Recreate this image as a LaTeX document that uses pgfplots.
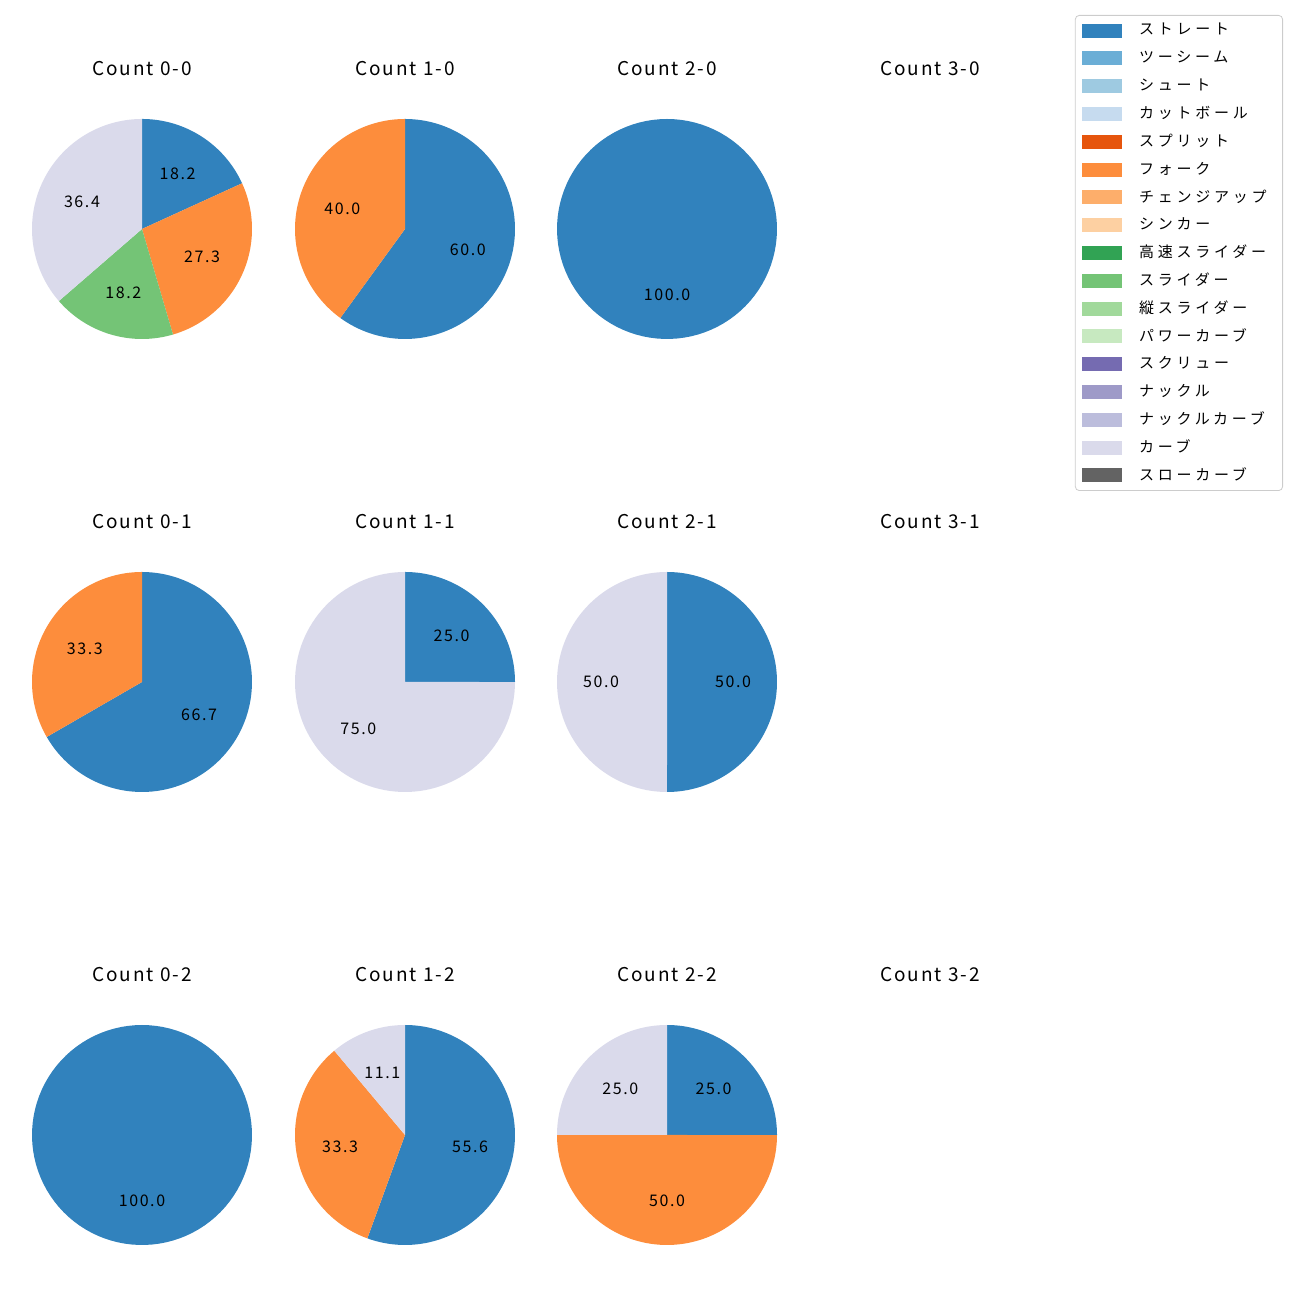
\documentclass[border=0pt]{standalone}
\usepackage{pgfplots}
\pgfplotsset{compat=1.18}
\usepackage{fontspec}
\setmainfont{Noto Sans CJK JP}[LetterSpace=10]
\newfontfamily\legfont{Noto Sans CJK JP}[LetterSpace=25]
\definecolor{c1}{HTML}{3182BD}
\definecolor{c2}{HTML}{6BAED6}
\definecolor{c3}{HTML}{9ECAE1}
\definecolor{c4}{HTML}{C6DBEF}
\definecolor{c5}{HTML}{E6550D}
\definecolor{c6}{HTML}{FD8D3C}
\definecolor{c7}{HTML}{FDAE6B}
\definecolor{c8}{HTML}{FDD0A2}
\definecolor{c9}{HTML}{31A354}
\definecolor{c10}{HTML}{74C476}
\definecolor{c11}{HTML}{A1D99B}
\definecolor{c12}{HTML}{C7E9C0}
\definecolor{c13}{HTML}{756BB1}
\definecolor{c14}{HTML}{9E9AC8}
\definecolor{c15}{HTML}{BCBDDC}
\definecolor{c16}{HTML}{DADAEB}
\definecolor{c17}{HTML}{636363}
\newcommand{\titfont}{\fontsize{9.5}{11}\selectfont}
\newcommand{\labfont}{\fontsize{8}{9}\selectfont}
\pgfplotsset{pie/.style={hide axis, scale only axis, width=110pt, height=110pt,
  xmin=-1, xmax=1, ymin=-1, ymax=1, anchor=center, clip=false}}
% slice from cumulative percent #1 to #2, colour #3
\newcommand{\pieslice}[3]{\addplot[fill=#3, draw=none, domain={90-3.6*(#2)}:{90-3.6*(#1)}, samples=100, variable=\t] ({cos(\t)},{sin(\t)}) -- (axis cs:0,0) -- cycle;}
\newcommand{\plabel}[3]{\node[font=\labfont] at (axis cs:{0.6*cos(90-1.8*(#1+#2))},{0.6*sin(90-1.8*(#1+#2))}) {#3};}
\newcommand{\ptitle}[1]{\node[font=\titfont] at (axis cs:0,1.4545) {#1};}
\begin{document}
\begin{tikzpicture}
\path[use as bounding box] (0,0) rectangle (650pt,650pt);
% row 1
\begin{axis}[pie, at={(71pt,535.5pt)}]
\pieslice{0}{18.1818}{c1}
\pieslice{18.1818}{45.4545}{c6}
\pieslice{45.4545}{63.6364}{c10}
\pieslice{63.6364}{100}{c16}
\plabel{0}{18.1818}{18.2}
\plabel{18.1818}{45.4545}{27.3}
\plabel{45.4545}{63.6364}{18.2}
\plabel{63.6364}{100}{36.4}
\ptitle{Count 0-0}
\end{axis}
\begin{axis}[pie, at={(202.5pt,535.5pt)}]
\pieslice{0}{60}{c1}
\pieslice{60}{100}{c6}
\plabel{0}{60}{60.0}
\plabel{60}{100}{40.0}
\ptitle{Count 1-0}
\end{axis}
\begin{axis}[pie, at={(333.5pt,535.5pt)}]
\pieslice{0}{100}{c1}
\plabel{0}{100}{100.0}
\ptitle{Count 2-0}
\end{axis}
\begin{axis}[pie, at={(465pt,535.5pt)}]
\ptitle{Count 3-0}
\end{axis}
% row 2
\begin{axis}[pie, at={(71pt,309pt)}]
\pieslice{0}{66.6667}{c1}
\pieslice{66.6667}{100}{c6}
\plabel{0}{66.6667}{66.7}
\plabel{66.6667}{100}{33.3}
\ptitle{Count 0-1}
\end{axis}
\begin{axis}[pie, at={(202.5pt,309pt)}]
\pieslice{0}{25}{c1}
\pieslice{25}{100}{c16}
\plabel{0}{25}{25.0}
\plabel{25}{100}{75.0}
\ptitle{Count 1-1}
\end{axis}
\begin{axis}[pie, at={(333.5pt,309pt)}]
\pieslice{0}{50}{c1}
\pieslice{50}{100}{c16}
\plabel{0}{50}{50.0}
\plabel{50}{100}{50.0}
\ptitle{Count 2-1}
\end{axis}
\begin{axis}[pie, at={(465pt,309pt)}]
\ptitle{Count 3-1}
\end{axis}
% row 3
\begin{axis}[pie, at={(71pt,82.5pt)}]
\pieslice{0}{100}{c1}
\plabel{0}{100}{100.0}
\ptitle{Count 0-2}
\end{axis}
\begin{axis}[pie, at={(202.5pt,82.5pt)}]
\pieslice{0}{55.5556}{c1}
\pieslice{55.5556}{88.8889}{c6}
\pieslice{88.8889}{100}{c16}
\plabel{0}{55.5556}{55.6}
\plabel{55.5556}{88.8889}{33.3}
\plabel{88.8889}{100}{11.1}
\ptitle{Count 1-2}
\end{axis}
\begin{axis}[pie, at={(333.5pt,82.5pt)}]
\pieslice{0}{25}{c1}
\pieslice{25}{75}{c6}
\pieslice{75}{100}{c16}
\plabel{0}{25}{25.0}
\plabel{25}{75}{50.0}
\plabel{75}{100}{25.0}
\ptitle{Count 2-2}
\end{axis}
\begin{axis}[pie, at={(465pt,82.5pt)}]
\ptitle{Count 3-2}
\end{axis}
% legend
\begin{axis}[hide axis, scale only axis, width=10pt, height=10pt,
  at={(641.5pt,642.5pt)}, anchor=north east, xmin=0, xmax=1, ymin=0, ymax=1,
  legend cell align=left,
  legend image code/.code={\fill[sharp corners,#1] (0pt,-3.25pt) rectangle (19.5pt,3.25pt);},
  legend style={at={(1,1)}, anchor=north east, draw=black!20, rounded corners=2pt,
    fill=white, font=\legfont\fontsize{7.5}{9}\selectfont, inner xsep=3.5pt, inner ysep=2.6pt, row sep=3.9pt,
    column sep=4pt,
    nodes={inner ysep=0pt, inner xsep=4.5pt, minimum height=10pt}}]
\addlegendimage{c1}\addlegendentry{ストレート}
\addlegendimage{c2}\addlegendentry{ツーシーム}
\addlegendimage{c3}\addlegendentry{シュート}
\addlegendimage{c4}\addlegendentry{カットボール}
\addlegendimage{c5}\addlegendentry{スプリット}
\addlegendimage{c6}\addlegendentry{フォーク}
\addlegendimage{c7}\addlegendentry{チェンジアップ}
\addlegendimage{c8}\addlegendentry{シンカー}
\addlegendimage{c9}\addlegendentry{高速スライダー}
\addlegendimage{c10}\addlegendentry{スライダー}
\addlegendimage{c11}\addlegendentry{縦スライダー}
\addlegendimage{c12}\addlegendentry{パワーカーブ}
\addlegendimage{c13}\addlegendentry{スクリュー}
\addlegendimage{c14}\addlegendentry{ナックル}
\addlegendimage{c15}\addlegendentry{ナックルカーブ}
\addlegendimage{c16}\addlegendentry{カーブ}
\addlegendimage{c17}\addlegendentry{スローカーブ}
\end{axis}
\end{tikzpicture}
\end{document}
